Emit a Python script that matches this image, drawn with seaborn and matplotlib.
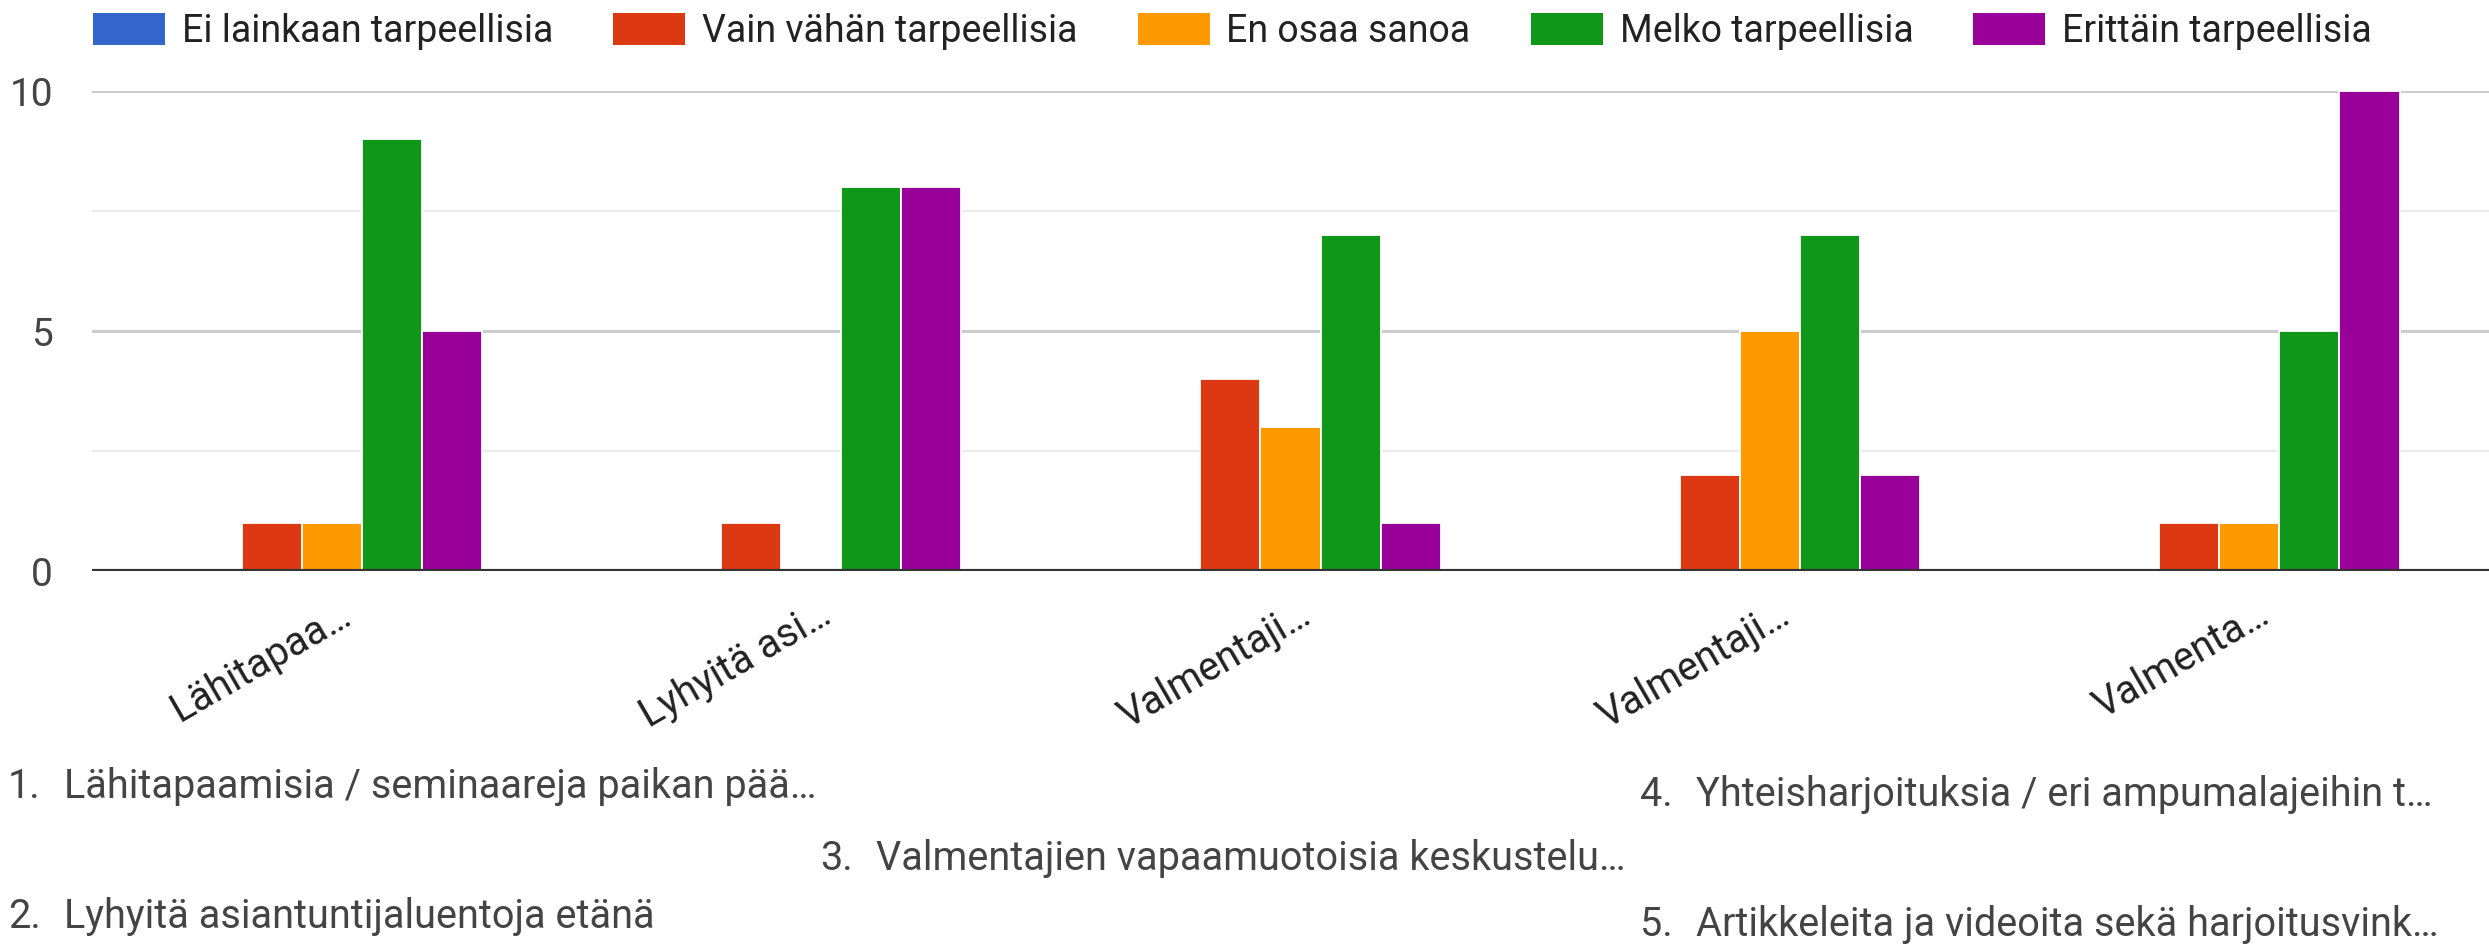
import matplotlib
matplotlib.use("Agg")
import matplotlib.pyplot as plt
import matplotlib.transforms as mtransforms
import pandas as pd
import seaborn as sns

# ── Data ───────────────────────────────────────────────────────────────────────

ITEMS = ["1", "2", "3", "4", "5"]
TICK_LABELS = ["Lähitapaa…", "Lyhyitä asi…", "Valmentaji…", "Valmentaji…", "Valmenta…"]

ANSWERS = [
    "Ei lainkaan tarpeellisia",
    "Vain vähän tarpeellisia",
    "En osaa sanoa",
    "Melko tarpeellisia",
    "Erittäin tarpeellisia",
]
COLORS = ["#3366cc", "#dc3912", "#ff9900", "#109618", "#990099"]

ei_lainkaan = [0, 0, 0, 0, 0]
vain_vahan = [1, 1, 4, 2, 1]
en_osaa = [1, 0, 3, 5, 1]
melko = [9, 8, 7, 7, 5]
erittain = [5, 8, 1, 2, 10]

LIST_LABELS = [
    "Lähitapaamisia / seminaareja paikan pää…",
    "Lyhyitä asiantuntijaluentoja etänä",
    "Valmentajien vapaamuotoisia keskustelu…",
    "Yhteisharjoituksia / eri ampumalajeihin t…",
    "Artikkeleita ja videoita sekä harjoitusvink…",
]

series = [ei_lainkaan, vain_vahan, en_osaa, melko, erittain]
rows = []
for answer, values in zip(ANSWERS, series):
    for item, v in zip(ITEMS, values):
        rows.append({"kohde": item, "vastaus": answer, "maara": v})
df = pd.DataFrame(rows)

# ── Plot ───────────────────────────────────────────────────────────────────────

sns.set_theme(style="white")
plt.rcParams["font.family"] = ["Roboto", "DejaVu Sans"]
FS_LEGEND = 27
FS_TICK = 28.5
FS_LIST = 28.5

W, H = 2489, 944
fig = plt.figure(figsize=(W / 100, H / 100), dpi=100)
ax = fig.add_axes([92 / W, 1 - 571 / H, (W - 92) / W, (571 - 91) / H])

sns.barplot(
    data=df, x="kohde", y="maara", hue="vastaus",
    order=ITEMS, hue_order=ANSWERS, palette=dict(zip(ANSWERS, COLORS)),
    width=0.627, edgecolor="white", linewidth=1.3, saturation=1,
    errorbar=None, ax=ax,
)

handles, labels = ax.get_legend_handles_labels()
ax.get_legend().remove()

ax.set_ylim(0, 10)
ax.set_xlim(-0.5, 4.5)
ax.set_yticks([0, 5, 10])
ax.set_yticks([2.5, 7.5], minor=True)
ax.grid(axis="y", which="major", color="#cccccc", linewidth=2.2, zorder=0)
ax.grid(axis="y", which="minor", color="#ebebeb", linewidth=1.6, zorder=0)
ax.set_axisbelow(True)
ax.axhline(0, color="#333333", linewidth=3, zorder=5)
for s in ax.spines.values():
    s.set_visible(False)

ax.set_xlabel("")
ax.set_ylabel("")
ax.tick_params(axis="y", length=0, pad=28, labelsize=28, labelcolor="#444444")
ax.tick_params(axis="x", length=0, pad=17, labelsize=FS_TICK, labelcolor="#222222")
ax.set_xticks(range(len(ITEMS)))
ax.set_xticklabels(TICK_LABELS, rotation=30, ha="right", va="top", rotation_mode="anchor")
offset = mtransforms.ScaledTranslation(7 / 100, 0, fig.dpi_scale_trans)
for lbl in ax.get_xticklabels():
    lbl.set_transform(lbl.get_transform() + offset)

for h in handles:
    h.set_edgecolor("none")
fig.legend(
    handles, labels, loc="center left", bbox_to_anchor=(93 / W, 1 - 31 / H),
    ncol=5, frameon=False, fontsize=FS_LEGEND, labelcolor="#222222",
    handlelength=1.92, handleheight=0.93, handletextpad=0.45,
    columnspacing=1.6, borderaxespad=0, borderpad=0,
)

# numbered list below the chart
list_pos = [(8, 786), (8, 916), (820, 859), (1640, 794), (1640, 925)]
for i, (label, (x, y)) in enumerate(zip(LIST_LABELS, list_pos)):
    fig.text(x / W, 1 - y / H, f"{i + 1}.", fontsize=FS_LIST, color="#444444", va="center")
    fig.text((x + 56) / W, 1 - y / H, label, fontsize=FS_LIST, color="#444444", va="center")

fig.savefig("out.png", dpi=100)
